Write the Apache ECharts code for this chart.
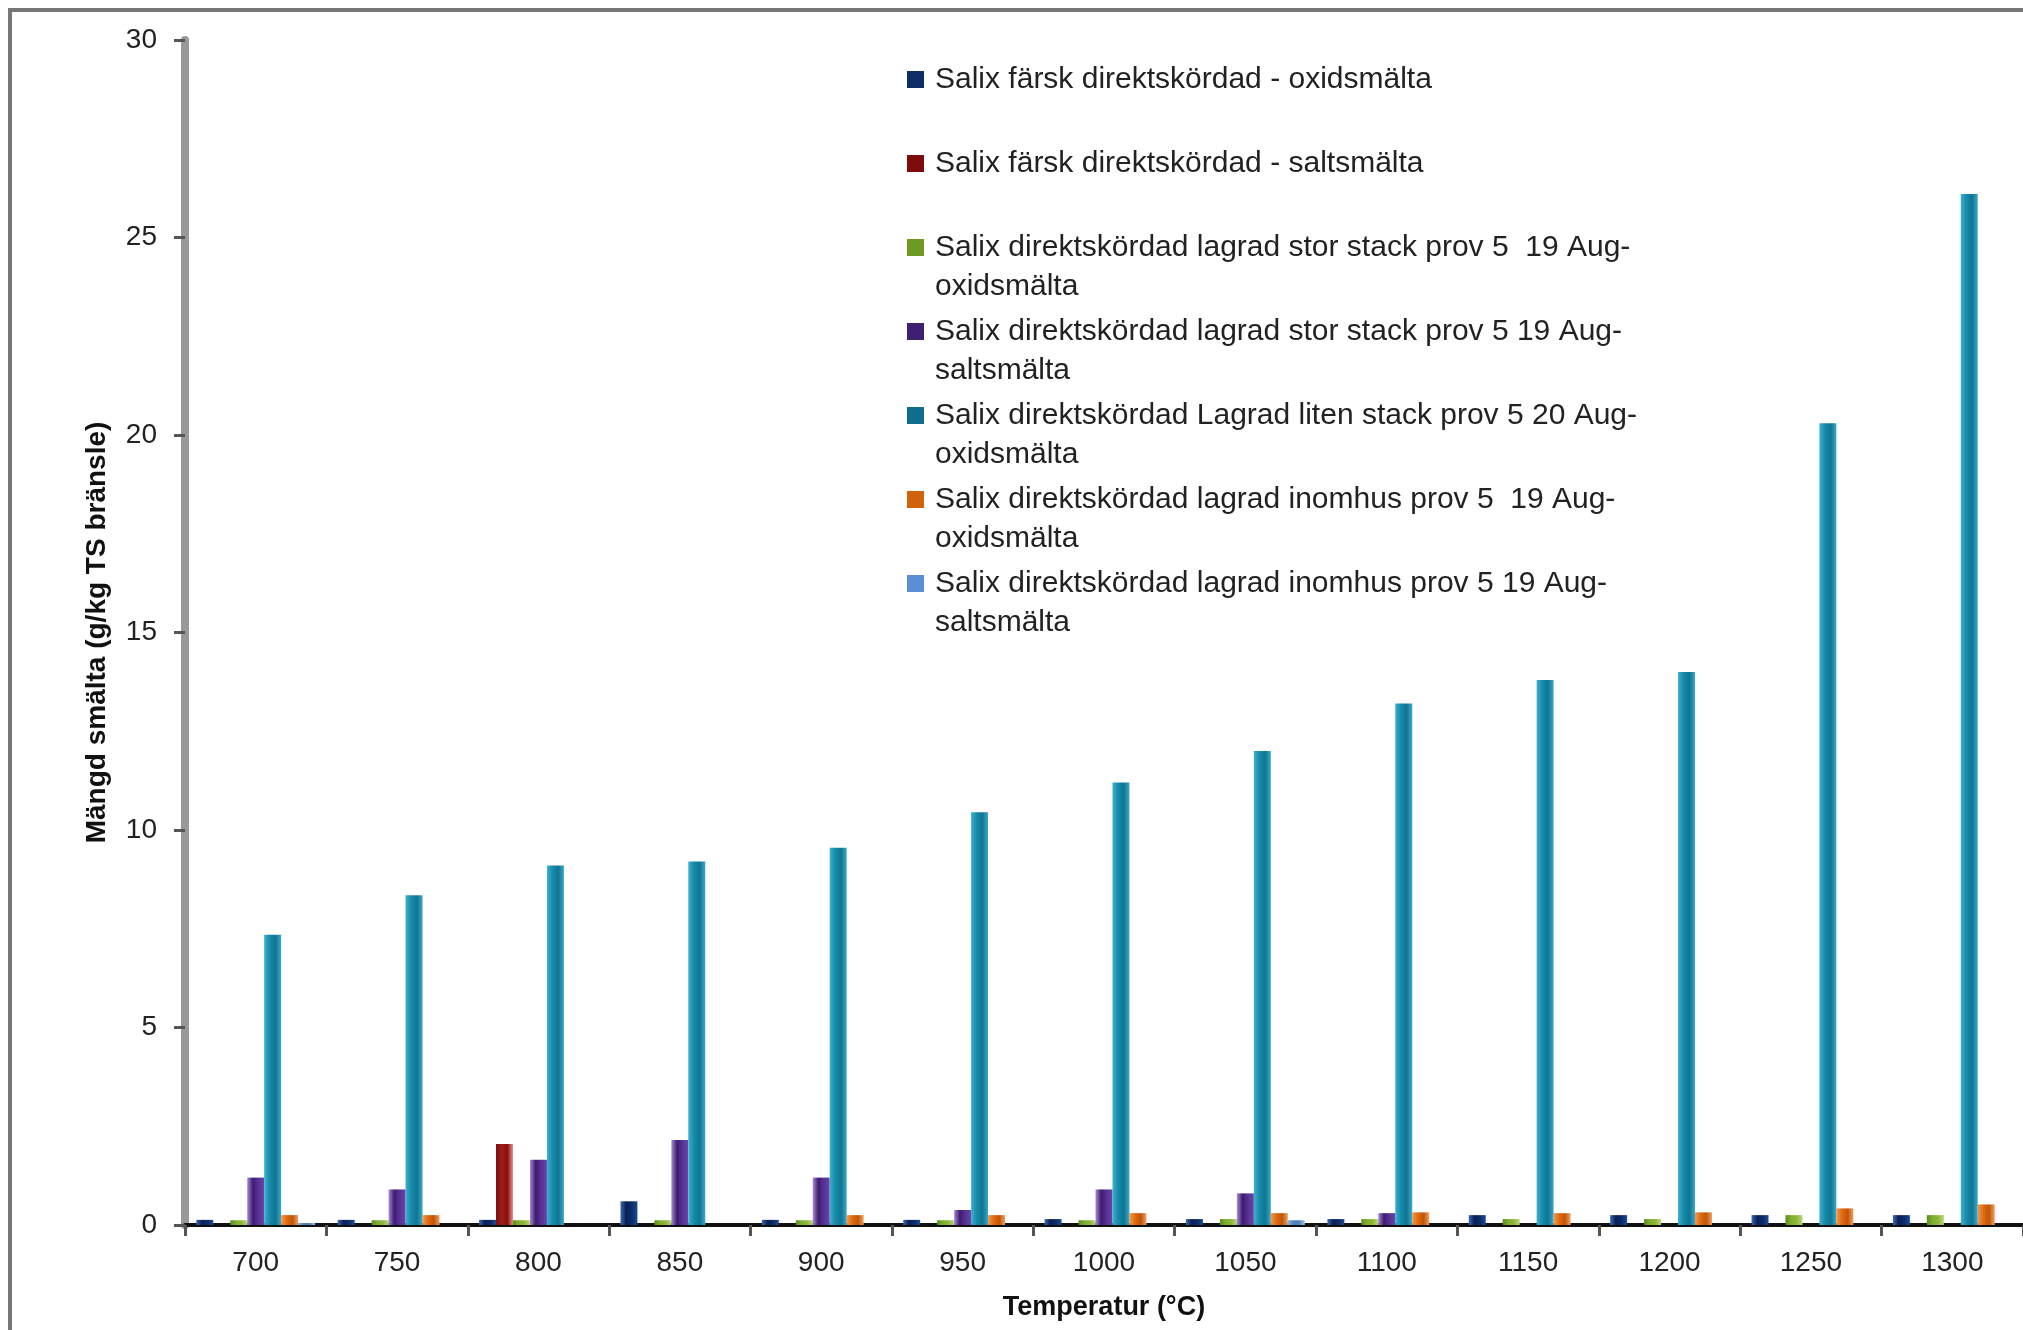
<!DOCTYPE html>
<html>
<head>
<meta charset="utf-8">
<script src="https://cdn.jsdelivr.net/npm/echarts@6/dist/echarts.min.js"></script>
<style>
html,body{margin:0;padding:0;background:#fff;}
#chart{width:2023px;height:1330px;}
</style>
</head>
<body>
<div id="chart"></div>
<script>
// ---- data ----
const categories = ['700','750','800','850','900','950','1000','1050','1100','1150','1200','1250','1300'];
const yTicks = [0, 5, 10, 15, 20, 25, 30];

const seriesNames = [
  'Salix färsk direktskördad - oxidsmälta',
  'Salix färsk direktskördad - saltsmälta',
  'Salix direktskördad lagrad stor stack prov 5  19 Aug-\noxidsmälta',
  'Salix direktskördad lagrad stor stack prov 5 19 Aug-\nsaltsmälta',
  'Salix direktskördad Lagrad liten stack prov 5 20 Aug-\noxidsmälta',
  'Salix direktskördad lagrad inomhus prov 5  19 Aug-\noxidsmälta',
  'Salix direktskördad lagrad inomhus prov 5 19 Aug-\nsaltsmälta'
];

const farskOxid     = [0.13, 0.13, 0.13, 0.6, 0.13, 0.13, 0.15, 0.15, 0.15, 0.25, 0.25, 0.25, 0.25];
const farskSalt     = [0, 0, 2.05, 0, 0, 0, 0, 0, 0, 0, 0, 0, 0];
const storOxid      = [0.12, 0.12, 0.12, 0.12, 0.12, 0.12, 0.12, 0.15, 0.15, 0.15, 0.15, 0.25, 0.25];
const storSalt      = [1.2, 0.9, 1.65, 2.15, 1.2, 0.38, 0.9, 0.8, 0.3, 0, 0, 0, 0];
const litenOxid     = [7.35, 8.35, 9.1, 9.2, 9.55, 10.45, 11.2, 12.0, 13.2, 13.8, 14.0, 20.3, 26.1];
const inomhusOxid   = [0.25, 0.25, 0, 0, 0.25, 0.25, 0.3, 0.3, 0.32, 0.3, 0.32, 0.42, 0.52];
const inomhusSalt   = [0.05, 0, 0, 0, 0, 0, 0, 0.12, 0, 0, 0, 0, 0];

const seriesData = [farskOxid, farskSalt, storOxid, storSalt, litenOxid, inomhusOxid, inomhusSalt];

// ---- styling ----
function grad(stops) {
  return new echarts.graphic.LinearGradient(0, 0, 1, 0,
    stops.map((c, i) => ({ offset: i / (stops.length - 1), color: c })));
}
const colors = [
  grad(['#3A6BB0', '#0A1F55', '#0C2A6A', '#1D4C8F']),
  grad(['#7A0A0A', '#A01C1C', '#8A0E0E', '#E89090']),
  grad(['#5B8A1E', '#7DAF2E', '#8DB83A', '#B8D77A']),
  grad(['#A78BD4', '#3D1C6E', '#5A3296', '#6A44A8']),
  grad(['#3DB0D0', '#178AAA', '#0F7592', '#3AA9C8']),
  grad(['#F09A50', '#E06A10', '#C05508', '#F0A060']),
  grad(['#8DB4E2', '#4F81BD', '#4F81BD', '#A8C4E8'])
];
const legendColors = ['#0E2D66', '#7E0B0B', '#6E9A24', '#3E1F72', '#0F6E8C', '#D0620C', '#5B8ED4'];

const FONT = 'Liberation Sans';
const legendTop = 54;
const legendStep = 84;
const legendLine = 41;
const firstLineCenter = legendTop + 24;

const series = seriesNames.map((name, i) => ({
  name: name,
  type: 'bar',
  data: seriesData[i],
  barGap: '0%',
  barCategoryGap: '16%',
  itemStyle: { color: colors[i] }
}));

// continuation lines of two-line legend entries
const contTexts = [];
seriesNames.forEach((n, i) => {
  const parts = n.split('\n');
  if (parts.length > 1) {
    contTexts.push({
      type: 'text',
      x: 935,
      y: firstLineCenter + i * legendStep + legendLine,
      style: { text: parts[1], font: '30px "' + FONT + '"', fill: '#222', textVerticalAlign: 'middle', textAlign: 'left' },
      silent: true
    });
  }
});

const chart = echarts.init(document.getElementById('chart'), null, { renderer: 'canvas' });
chart.setOption({
  backgroundColor: '#fff',
  animation: false,
  textStyle: { fontFamily: FONT },
  grid: { left: 185, right: -3, top: 40, bottom: 105, containLabel: false },
  legend: {
    orient: 'vertical',
    left: 902,
    top: legendTop,
    itemWidth: 17,
    itemHeight: 17,
    itemGap: legendStep - legendLine,
    icon: 'rect',
    data: seriesNames.map((n, i) => ({ name: n, itemStyle: { color: legendColors[i] } })),
    formatter: function (name) { return name.split('\n')[0]; },
    textStyle: { fontFamily: FONT, fontSize: 30, color: '#222', lineHeight: legendLine, padding: [0, 0, 0, 6] }
  },
  xAxis: {
    type: 'category',
    data: categories,
    name: 'Temperatur (°C)',
    nameLocation: 'middle',
    nameGap: 69,
    nameTextStyle: { fontFamily: FONT, fontSize: 27, fontWeight: 'bold', color: '#111' },
    axisLine: { lineStyle: { color: '#111', width: 4 } },
    axisTick: { show: true, length: 11, lineStyle: { color: '#555', width: 3 } },
    axisLabel: { fontFamily: FONT, fontSize: 28, color: '#222', margin: 24 }
  },
  yAxis: {
    type: 'value',
    min: yTicks[0],
    max: yTicks[yTicks.length - 1],
    interval: 5,
    name: 'Mängd smälta (g/kg TS bränsle)',
    nameLocation: 'middle',
    nameGap: 74,
    nameRotate: 90,
    nameTextStyle: { fontFamily: FONT, fontSize: 28, fontWeight: 'bold', color: '#111' },
    axisLine: { show: true, lineStyle: { color: '#999', width: 8 } },
    axisTick: { show: true, length: 11, lineStyle: { color: '#555', width: 3 } },
    splitLine: { show: false },
    axisLabel: { fontFamily: FONT, fontSize: 28, color: '#222', margin: 28 }
  },
  graphic: [
    {
      type: 'rect',
      shape: { x: 10, y: 10, width: 2100, height: 1400 },
      style: { fill: 'none', stroke: '#777', lineWidth: 4 },
      silent: true,
      z: -1
    }
  ].concat(contTexts),
  series: series
});
</script>
</body>
</html>
